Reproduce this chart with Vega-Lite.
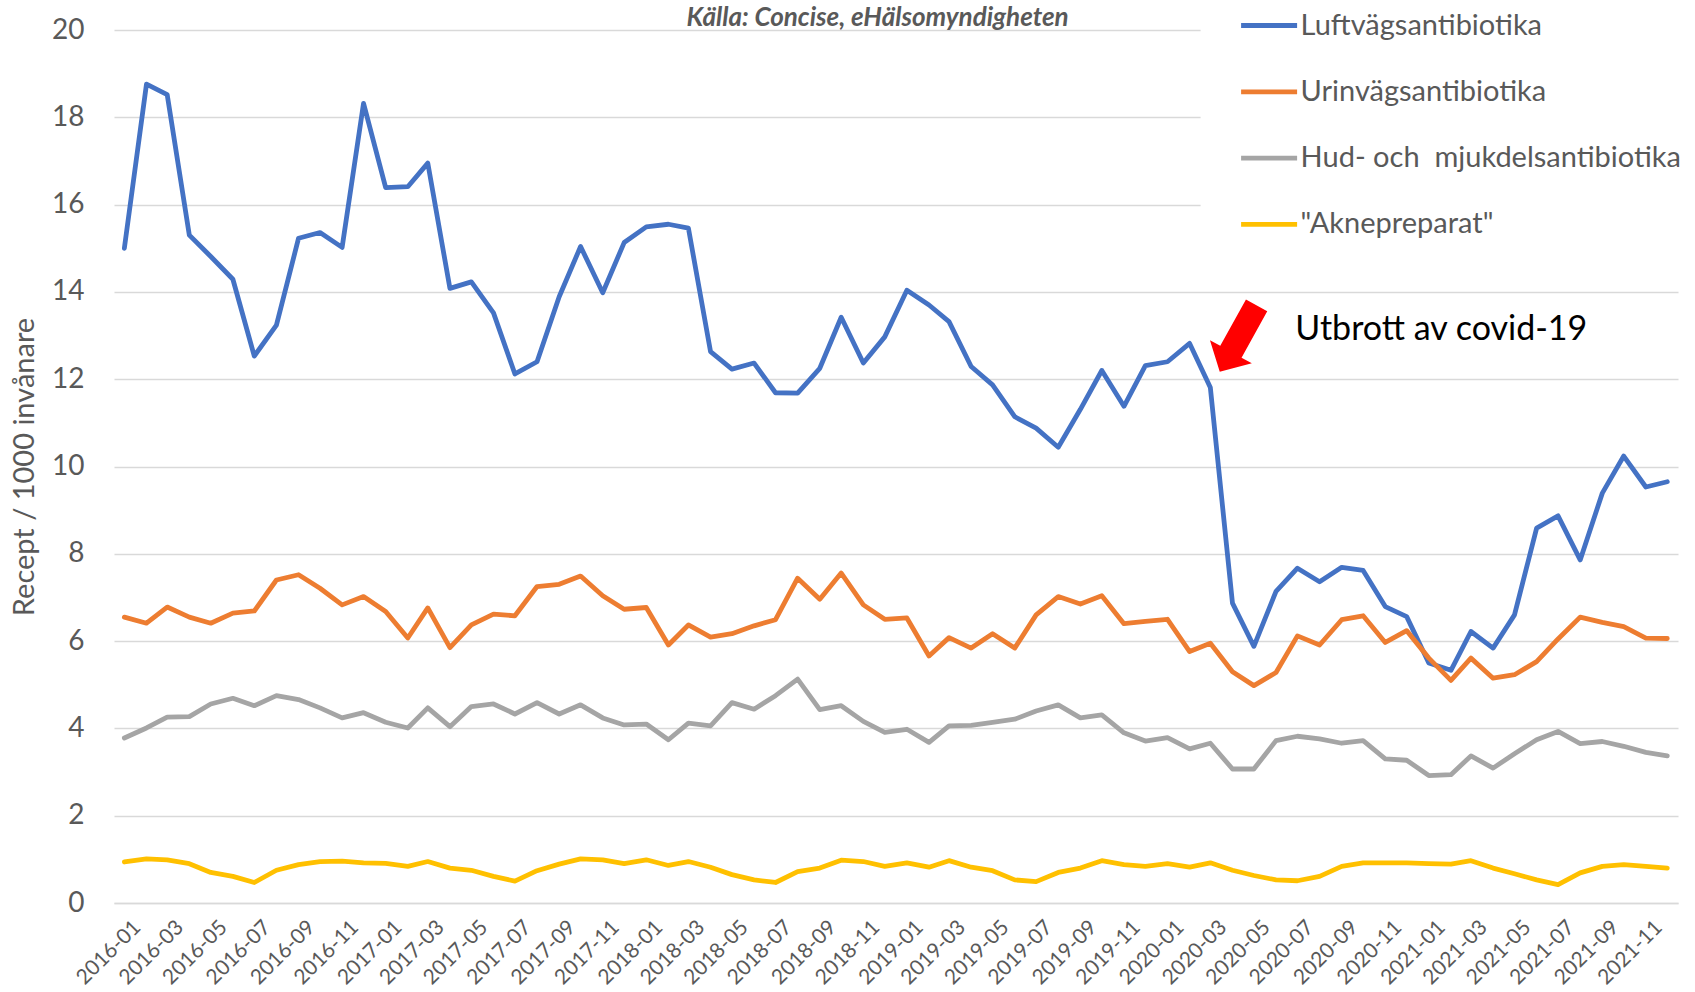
{
  "$schema": "https://vega.github.io/schema/vega-lite/v6.json",
  "width": 1564,
  "height": 873,
  "autosize": "none",
  "padding": {"left": 114, "top": 30, "right": 17, "bottom": 89},
  "background": "white",
  "config": {"view": {"stroke": null}, "font": "Lato"},
  "layer": [
    {
      "data": {
        "format": {"parse": {"m": "utc:'%Y-%m'"}},
        "values": [
{"m":"2016-01","s":"Luftvägsantibiotika","v":15.00},{"m":"2016-02","s":"Luftvägsantibiotika","v":18.76},{"m":"2016-03","s":"Luftvägsantibiotika","v":18.52},{"m":"2016-04","s":"Luftvägsantibiotika","v":15.30},{"m":"2016-05","s":"Luftvägsantibiotika","v":14.81},{"m":"2016-06","s":"Luftvägsantibiotika","v":14.29},{"m":"2016-07","s":"Luftvägsantibiotika","v":12.53},{"m":"2016-08","s":"Luftvägsantibiotika","v":13.24},{"m":"2016-09","s":"Luftvägsantibiotika","v":15.23},{"m":"2016-10","s":"Luftvägsantibiotika","v":15.36},{"m":"2016-11","s":"Luftvägsantibiotika","v":15.02},{"m":"2016-12","s":"Luftvägsantibiotika","v":18.32},
{"m":"2017-01","s":"Luftvägsantibiotika","v":16.39},{"m":"2017-02","s":"Luftvägsantibiotika","v":16.41},{"m":"2017-03","s":"Luftvägsantibiotika","v":16.95},{"m":"2017-04","s":"Luftvägsantibiotika","v":14.08},{"m":"2017-05","s":"Luftvägsantibiotika","v":14.23},{"m":"2017-06","s":"Luftvägsantibiotika","v":13.52},{"m":"2017-07","s":"Luftvägsantibiotika","v":12.12},{"m":"2017-08","s":"Luftvägsantibiotika","v":12.40},{"m":"2017-09","s":"Luftvägsantibiotika","v":13.89},{"m":"2017-10","s":"Luftvägsantibiotika","v":15.04},{"m":"2017-11","s":"Luftvägsantibiotika","v":13.98},{"m":"2017-12","s":"Luftvägsantibiotika","v":15.13},
{"m":"2018-01","s":"Luftvägsantibiotika","v":15.49},{"m":"2018-02","s":"Luftvägsantibiotika","v":15.55},{"m":"2018-03","s":"Luftvägsantibiotika","v":15.46},{"m":"2018-04","s":"Luftvägsantibiotika","v":12.63},{"m":"2018-05","s":"Luftvägsantibiotika","v":12.23},{"m":"2018-06","s":"Luftvägsantibiotika","v":12.37},{"m":"2018-07","s":"Luftvägsantibiotika","v":11.69},{"m":"2018-08","s":"Luftvägsantibiotika","v":11.68},{"m":"2018-09","s":"Luftvägsantibiotika","v":12.25},{"m":"2018-10","s":"Luftvägsantibiotika","v":13.42},{"m":"2018-11","s":"Luftvägsantibiotika","v":12.37},{"m":"2018-12","s":"Luftvägsantibiotika","v":12.97},
{"m":"2019-01","s":"Luftvägsantibiotika","v":14.04},{"m":"2019-02","s":"Luftvägsantibiotika","v":13.70},{"m":"2019-03","s":"Luftvägsantibiotika","v":13.32},{"m":"2019-04","s":"Luftvägsantibiotika","v":12.29},{"m":"2019-05","s":"Luftvägsantibiotika","v":11.87},{"m":"2019-06","s":"Luftvägsantibiotika","v":11.14},{"m":"2019-07","s":"Luftvägsantibiotika","v":10.88},{"m":"2019-08","s":"Luftvägsantibiotika","v":10.44},{"m":"2019-09","s":"Luftvägsantibiotika","v":11.31},{"m":"2019-10","s":"Luftvägsantibiotika","v":12.20},{"m":"2019-11","s":"Luftvägsantibiotika","v":11.38},{"m":"2019-12","s":"Luftvägsantibiotika","v":12.31},
{"m":"2020-01","s":"Luftvägsantibiotika","v":12.40},{"m":"2020-02","s":"Luftvägsantibiotika","v":12.82},{"m":"2020-03","s":"Luftvägsantibiotika","v":11.81},{"m":"2020-04","s":"Luftvägsantibiotika","v":6.87},{"m":"2020-05","s":"Luftvägsantibiotika","v":5.88},{"m":"2020-06","s":"Luftvägsantibiotika","v":7.14},{"m":"2020-07","s":"Luftvägsantibiotika","v":7.67},{"m":"2020-08","s":"Luftvägsantibiotika","v":7.36},{"m":"2020-09","s":"Luftvägsantibiotika","v":7.69},{"m":"2020-10","s":"Luftvägsantibiotika","v":7.62},{"m":"2020-11","s":"Luftvägsantibiotika","v":6.79},{"m":"2020-12","s":"Luftvägsantibiotika","v":6.56},
{"m":"2021-01","s":"Luftvägsantibiotika","v":5.50},{"m":"2021-02","s":"Luftvägsantibiotika","v":5.33},{"m":"2021-03","s":"Luftvägsantibiotika","v":6.22},{"m":"2021-04","s":"Luftvägsantibiotika","v":5.84},{"m":"2021-05","s":"Luftvägsantibiotika","v":6.60},{"m":"2021-06","s":"Luftvägsantibiotika","v":8.59},{"m":"2021-07","s":"Luftvägsantibiotika","v":8.87},{"m":"2021-08","s":"Luftvägsantibiotika","v":7.86},{"m":"2021-09","s":"Luftvägsantibiotika","v":9.39},{"m":"2021-10","s":"Luftvägsantibiotika","v":10.24},{"m":"2021-11","s":"Luftvägsantibiotika","v":9.53},{"m":"2021-12","s":"Luftvägsantibiotika","v":9.65},
{"m":"2016-01","s":"Urinvägsantibiotika","v":6.55},{"m":"2016-02","s":"Urinvägsantibiotika","v":6.41},{"m":"2016-03","s":"Urinvägsantibiotika","v":6.78},{"m":"2016-04","s":"Urinvägsantibiotika","v":6.55},{"m":"2016-05","s":"Urinvägsantibiotika","v":6.41},{"m":"2016-06","s":"Urinvägsantibiotika","v":6.64},{"m":"2016-07","s":"Urinvägsantibiotika","v":6.69},{"m":"2016-08","s":"Urinvägsantibiotika","v":7.40},{"m":"2016-09","s":"Urinvägsantibiotika","v":7.52},{"m":"2016-10","s":"Urinvägsantibiotika","v":7.21},{"m":"2016-11","s":"Urinvägsantibiotika","v":6.83},{"m":"2016-12","s":"Urinvägsantibiotika","v":7.02},
{"m":"2017-01","s":"Urinvägsantibiotika","v":6.68},{"m":"2017-02","s":"Urinvägsantibiotika","v":6.07},{"m":"2017-03","s":"Urinvägsantibiotika","v":6.76},{"m":"2017-04","s":"Urinvägsantibiotika","v":5.85},{"m":"2017-05","s":"Urinvägsantibiotika","v":6.37},{"m":"2017-06","s":"Urinvägsantibiotika","v":6.62},{"m":"2017-07","s":"Urinvägsantibiotika","v":6.58},{"m":"2017-08","s":"Urinvägsantibiotika","v":7.25},{"m":"2017-09","s":"Urinvägsantibiotika","v":7.30},{"m":"2017-10","s":"Urinvägsantibiotika","v":7.49},{"m":"2017-11","s":"Urinvägsantibiotika","v":7.04},{"m":"2017-12","s":"Urinvägsantibiotika","v":6.73},
{"m":"2018-01","s":"Urinvägsantibiotika","v":6.77},{"m":"2018-02","s":"Urinvägsantibiotika","v":5.91},{"m":"2018-03","s":"Urinvägsantibiotika","v":6.37},{"m":"2018-04","s":"Urinvägsantibiotika","v":6.09},{"m":"2018-05","s":"Urinvägsantibiotika","v":6.17},{"m":"2018-06","s":"Urinvägsantibiotika","v":6.35},{"m":"2018-07","s":"Urinvägsantibiotika","v":6.49},{"m":"2018-08","s":"Urinvägsantibiotika","v":7.44},{"m":"2018-09","s":"Urinvägsantibiotika","v":6.96},{"m":"2018-10","s":"Urinvägsantibiotika","v":7.56},{"m":"2018-11","s":"Urinvägsantibiotika","v":6.83},{"m":"2018-12","s":"Urinvägsantibiotika","v":6.50},
{"m":"2019-01","s":"Urinvägsantibiotika","v":6.53},{"m":"2019-02","s":"Urinvägsantibiotika","v":5.66},{"m":"2019-03","s":"Urinvägsantibiotika","v":6.08},{"m":"2019-04","s":"Urinvägsantibiotika","v":5.84},{"m":"2019-05","s":"Urinvägsantibiotika","v":6.17},{"m":"2019-06","s":"Urinvägsantibiotika","v":5.84},{"m":"2019-07","s":"Urinvägsantibiotika","v":6.60},{"m":"2019-08","s":"Urinvägsantibiotika","v":7.02},{"m":"2019-09","s":"Urinvägsantibiotika","v":6.85},{"m":"2019-10","s":"Urinvägsantibiotika","v":7.04},{"m":"2019-11","s":"Urinvägsantibiotika","v":6.40},{"m":"2019-12","s":"Urinvägsantibiotika","v":6.45},
{"m":"2020-01","s":"Urinvägsantibiotika","v":6.50},{"m":"2020-02","s":"Urinvägsantibiotika","v":5.76},{"m":"2020-03","s":"Urinvägsantibiotika","v":5.95},{"m":"2020-04","s":"Urinvägsantibiotika","v":5.30},{"m":"2020-05","s":"Urinvägsantibiotika","v":4.98},{"m":"2020-06","s":"Urinvägsantibiotika","v":5.28},{"m":"2020-07","s":"Urinvägsantibiotika","v":6.12},{"m":"2020-08","s":"Urinvägsantibiotika","v":5.91},{"m":"2020-09","s":"Urinvägsantibiotika","v":6.49},{"m":"2020-10","s":"Urinvägsantibiotika","v":6.58},{"m":"2020-11","s":"Urinvägsantibiotika","v":5.97},{"m":"2020-12","s":"Urinvägsantibiotika","v":6.24},
{"m":"2021-01","s":"Urinvägsantibiotika","v":5.61},{"m":"2021-02","s":"Urinvägsantibiotika","v":5.10},{"m":"2021-03","s":"Urinvägsantibiotika","v":5.61},{"m":"2021-04","s":"Urinvägsantibiotika","v":5.15},{"m":"2021-05","s":"Urinvägsantibiotika","v":5.23},{"m":"2021-06","s":"Urinvägsantibiotika","v":5.53},{"m":"2021-07","s":"Urinvägsantibiotika","v":6.05},{"m":"2021-08","s":"Urinvägsantibiotika","v":6.55},{"m":"2021-09","s":"Urinvägsantibiotika","v":6.43},{"m":"2021-10","s":"Urinvägsantibiotika","v":6.33},{"m":"2021-11","s":"Urinvägsantibiotika","v":6.07},{"m":"2021-12","s":"Urinvägsantibiotika","v":6.06},
{"m":"2016-01","s":"Hud- och\u00a0 mjukdelsantibiotika","v":3.78},{"m":"2016-02","s":"Hud- och\u00a0 mjukdelsantibiotika","v":4.01},{"m":"2016-03","s":"Hud- och\u00a0 mjukdelsantibiotika","v":4.26},{"m":"2016-04","s":"Hud- och\u00a0 mjukdelsantibiotika","v":4.27},{"m":"2016-05","s":"Hud- och\u00a0 mjukdelsantibiotika","v":4.56},{"m":"2016-06","s":"Hud- och\u00a0 mjukdelsantibiotika","v":4.69},{"m":"2016-07","s":"Hud- och\u00a0 mjukdelsantibiotika","v":4.52},{"m":"2016-08","s":"Hud- och\u00a0 mjukdelsantibiotika","v":4.75},{"m":"2016-09","s":"Hud- och\u00a0 mjukdelsantibiotika","v":4.66},{"m":"2016-10","s":"Hud- och\u00a0 mjukdelsantibiotika","v":4.47},{"m":"2016-11","s":"Hud- och\u00a0 mjukdelsantibiotika","v":4.24},{"m":"2016-12","s":"Hud- och\u00a0 mjukdelsantibiotika","v":4.36},
{"m":"2017-01","s":"Hud- och\u00a0 mjukdelsantibiotika","v":4.14},{"m":"2017-02","s":"Hud- och\u00a0 mjukdelsantibiotika","v":4.01},{"m":"2017-03","s":"Hud- och\u00a0 mjukdelsantibiotika","v":4.47},{"m":"2017-04","s":"Hud- och\u00a0 mjukdelsantibiotika","v":4.04},{"m":"2017-05","s":"Hud- och\u00a0 mjukdelsantibiotika","v":4.50},{"m":"2017-06","s":"Hud- och\u00a0 mjukdelsantibiotika","v":4.56},{"m":"2017-07","s":"Hud- och\u00a0 mjukdelsantibiotika","v":4.33},{"m":"2017-08","s":"Hud- och\u00a0 mjukdelsantibiotika","v":4.59},{"m":"2017-09","s":"Hud- och\u00a0 mjukdelsantibiotika","v":4.33},{"m":"2017-10","s":"Hud- och\u00a0 mjukdelsantibiotika","v":4.54},{"m":"2017-11","s":"Hud- och\u00a0 mjukdelsantibiotika","v":4.24},{"m":"2017-12","s":"Hud- och\u00a0 mjukdelsantibiotika","v":4.08},
{"m":"2018-01","s":"Hud- och\u00a0 mjukdelsantibiotika","v":4.10},{"m":"2018-02","s":"Hud- och\u00a0 mjukdelsantibiotika","v":3.74},{"m":"2018-03","s":"Hud- och\u00a0 mjukdelsantibiotika","v":4.12},{"m":"2018-04","s":"Hud- och\u00a0 mjukdelsantibiotika","v":4.06},{"m":"2018-05","s":"Hud- och\u00a0 mjukdelsantibiotika","v":4.59},{"m":"2018-06","s":"Hud- och\u00a0 mjukdelsantibiotika","v":4.44},{"m":"2018-07","s":"Hud- och\u00a0 mjukdelsantibiotika","v":4.75},{"m":"2018-08","s":"Hud- och\u00a0 mjukdelsantibiotika","v":5.13},{"m":"2018-09","s":"Hud- och\u00a0 mjukdelsantibiotika","v":4.43},{"m":"2018-10","s":"Hud- och\u00a0 mjukdelsantibiotika","v":4.52},{"m":"2018-11","s":"Hud- och\u00a0 mjukdelsantibiotika","v":4.16},{"m":"2018-12","s":"Hud- och\u00a0 mjukdelsantibiotika","v":3.91},
{"m":"2019-01","s":"Hud- och\u00a0 mjukdelsantibiotika","v":3.98},{"m":"2019-02","s":"Hud- och\u00a0 mjukdelsantibiotika","v":3.68},{"m":"2019-03","s":"Hud- och\u00a0 mjukdelsantibiotika","v":4.06},{"m":"2019-04","s":"Hud- och\u00a0 mjukdelsantibiotika","v":4.07},{"m":"2019-05","s":"Hud- och\u00a0 mjukdelsantibiotika","v":4.14},{"m":"2019-06","s":"Hud- och\u00a0 mjukdelsantibiotika","v":4.21},{"m":"2019-07","s":"Hud- och\u00a0 mjukdelsantibiotika","v":4.40},{"m":"2019-08","s":"Hud- och\u00a0 mjukdelsantibiotika","v":4.54},{"m":"2019-09","s":"Hud- och\u00a0 mjukdelsantibiotika","v":4.24},{"m":"2019-10","s":"Hud- och\u00a0 mjukdelsantibiotika","v":4.31},{"m":"2019-11","s":"Hud- och\u00a0 mjukdelsantibiotika","v":3.90},{"m":"2019-12","s":"Hud- och\u00a0 mjukdelsantibiotika","v":3.71},
{"m":"2020-01","s":"Hud- och\u00a0 mjukdelsantibiotika","v":3.79},{"m":"2020-02","s":"Hud- och\u00a0 mjukdelsantibiotika","v":3.53},{"m":"2020-03","s":"Hud- och\u00a0 mjukdelsantibiotika","v":3.66},{"m":"2020-04","s":"Hud- och\u00a0 mjukdelsantibiotika","v":3.07},{"m":"2020-05","s":"Hud- och\u00a0 mjukdelsantibiotika","v":3.07},{"m":"2020-06","s":"Hud- och\u00a0 mjukdelsantibiotika","v":3.72},{"m":"2020-07","s":"Hud- och\u00a0 mjukdelsantibiotika","v":3.82},{"m":"2020-08","s":"Hud- och\u00a0 mjukdelsantibiotika","v":3.76},{"m":"2020-09","s":"Hud- och\u00a0 mjukdelsantibiotika","v":3.66},{"m":"2020-10","s":"Hud- och\u00a0 mjukdelsantibiotika","v":3.72},{"m":"2020-11","s":"Hud- och\u00a0 mjukdelsantibiotika","v":3.30},{"m":"2020-12","s":"Hud- och\u00a0 mjukdelsantibiotika","v":3.27},
{"m":"2021-01","s":"Hud- och\u00a0 mjukdelsantibiotika","v":2.92},{"m":"2021-02","s":"Hud- och\u00a0 mjukdelsantibiotika","v":2.94},{"m":"2021-03","s":"Hud- och\u00a0 mjukdelsantibiotika","v":3.37},{"m":"2021-04","s":"Hud- och\u00a0 mjukdelsantibiotika","v":3.09},{"m":"2021-05","s":"Hud- och\u00a0 mjukdelsantibiotika","v":3.42},{"m":"2021-06","s":"Hud- och\u00a0 mjukdelsantibiotika","v":3.74},{"m":"2021-07","s":"Hud- och\u00a0 mjukdelsantibiotika","v":3.93},{"m":"2021-08","s":"Hud- och\u00a0 mjukdelsantibiotika","v":3.65},{"m":"2021-09","s":"Hud- och\u00a0 mjukdelsantibiotika","v":3.70},{"m":"2021-10","s":"Hud- och\u00a0 mjukdelsantibiotika","v":3.59},{"m":"2021-11","s":"Hud- och\u00a0 mjukdelsantibiotika","v":3.45},{"m":"2021-12","s":"Hud- och\u00a0 mjukdelsantibiotika","v":3.37},
{"m":"2016-01","s":"\"Aknepreparat\"","v":0.94},{"m":"2016-02","s":"\"Aknepreparat\"","v":1.01},{"m":"2016-03","s":"\"Aknepreparat\"","v":0.99},{"m":"2016-04","s":"\"Aknepreparat\"","v":0.90},{"m":"2016-05","s":"\"Aknepreparat\"","v":0.70},{"m":"2016-06","s":"\"Aknepreparat\"","v":0.61},{"m":"2016-07","s":"\"Aknepreparat\"","v":0.47},{"m":"2016-08","s":"\"Aknepreparat\"","v":0.75},{"m":"2016-09","s":"\"Aknepreparat\"","v":0.88},{"m":"2016-10","s":"\"Aknepreparat\"","v":0.95},{"m":"2016-11","s":"\"Aknepreparat\"","v":0.96},{"m":"2016-12","s":"\"Aknepreparat\"","v":0.92},
{"m":"2017-01","s":"\"Aknepreparat\"","v":0.91},{"m":"2017-02","s":"\"Aknepreparat\"","v":0.84},{"m":"2017-03","s":"\"Aknepreparat\"","v":0.95},{"m":"2017-04","s":"\"Aknepreparat\"","v":0.80},{"m":"2017-05","s":"\"Aknepreparat\"","v":0.75},{"m":"2017-06","s":"\"Aknepreparat\"","v":0.61},{"m":"2017-07","s":"\"Aknepreparat\"","v":0.50},{"m":"2017-08","s":"\"Aknepreparat\"","v":0.74},{"m":"2017-09","s":"\"Aknepreparat\"","v":0.89},{"m":"2017-10","s":"\"Aknepreparat\"","v":1.01},{"m":"2017-11","s":"\"Aknepreparat\"","v":0.99},{"m":"2017-12","s":"\"Aknepreparat\"","v":0.90},
{"m":"2018-01","s":"\"Aknepreparat\"","v":0.99},{"m":"2018-02","s":"\"Aknepreparat\"","v":0.86},{"m":"2018-03","s":"\"Aknepreparat\"","v":0.95},{"m":"2018-04","s":"\"Aknepreparat\"","v":0.82},{"m":"2018-05","s":"\"Aknepreparat\"","v":0.65},{"m":"2018-06","s":"\"Aknepreparat\"","v":0.53},{"m":"2018-07","s":"\"Aknepreparat\"","v":0.47},{"m":"2018-08","s":"\"Aknepreparat\"","v":0.72},{"m":"2018-09","s":"\"Aknepreparat\"","v":0.80},{"m":"2018-10","s":"\"Aknepreparat\"","v":0.98},{"m":"2018-11","s":"\"Aknepreparat\"","v":0.95},{"m":"2018-12","s":"\"Aknepreparat\"","v":0.84},
{"m":"2019-01","s":"\"Aknepreparat\"","v":0.92},{"m":"2019-02","s":"\"Aknepreparat\"","v":0.82},{"m":"2019-03","s":"\"Aknepreparat\"","v":0.97},{"m":"2019-04","s":"\"Aknepreparat\"","v":0.82},{"m":"2019-05","s":"\"Aknepreparat\"","v":0.74},{"m":"2019-06","s":"\"Aknepreparat\"","v":0.53},{"m":"2019-07","s":"\"Aknepreparat\"","v":0.49},{"m":"2019-08","s":"\"Aknepreparat\"","v":0.70},{"m":"2019-09","s":"\"Aknepreparat\"","v":0.80},{"m":"2019-10","s":"\"Aknepreparat\"","v":0.97},{"m":"2019-11","s":"\"Aknepreparat\"","v":0.88},{"m":"2019-12","s":"\"Aknepreparat\"","v":0.84},
{"m":"2020-01","s":"\"Aknepreparat\"","v":0.90},{"m":"2020-02","s":"\"Aknepreparat\"","v":0.82},{"m":"2020-03","s":"\"Aknepreparat\"","v":0.92},{"m":"2020-04","s":"\"Aknepreparat\"","v":0.75},{"m":"2020-05","s":"\"Aknepreparat\"","v":0.63},{"m":"2020-06","s":"\"Aknepreparat\"","v":0.53},{"m":"2020-07","s":"\"Aknepreparat\"","v":0.51},{"m":"2020-08","s":"\"Aknepreparat\"","v":0.61},{"m":"2020-09","s":"\"Aknepreparat\"","v":0.84},{"m":"2020-10","s":"\"Aknepreparat\"","v":0.92},{"m":"2020-11","s":"\"Aknepreparat\"","v":0.92},{"m":"2020-12","s":"\"Aknepreparat\"","v":0.92},
{"m":"2021-01","s":"\"Aknepreparat\"","v":0.90},{"m":"2021-02","s":"\"Aknepreparat\"","v":0.89},{"m":"2021-03","s":"\"Aknepreparat\"","v":0.97},{"m":"2021-04","s":"\"Aknepreparat\"","v":0.80},{"m":"2021-05","s":"\"Aknepreparat\"","v":0.67},{"m":"2021-06","s":"\"Aknepreparat\"","v":0.53},{"m":"2021-07","s":"\"Aknepreparat\"","v":0.42},{"m":"2021-08","s":"\"Aknepreparat\"","v":0.69},{"m":"2021-09","s":"\"Aknepreparat\"","v":0.84},{"m":"2021-10","s":"\"Aknepreparat\"","v":0.88},{"m":"2021-11","s":"\"Aknepreparat\"","v":0.84},{"m":"2021-12","s":"\"Aknepreparat\"","v":0.80}
        ]
      },
      "mark": {"type": "line", "strokeWidth": 4.8, "strokeJoin": "round", "strokeCap": "round"},
      "encoding": {
        "x": {
          "field": "m", "type": "temporal",
          "scale": {"type": "utc", "nice": false, "domain": [{"year": 2015, "month": 12, "date": 17, "hours": 12, "utc": true}, {"year": 2021, "month": 12, "date": 16, "utc": true}]},
          "axis": {"title": null, "format": "%Y-%m", "tickCount": {"interval": "month", "step": 2}, "labelAngle": -45, "labelFontSize": 21, "labelColor": "#595959", "labelFont": "Lato", "ticks": false, "grid": false, "domainColor": "#D9D9D9", "domainWidth": 1.5, "labelPadding": 13, "labelOffset": 5, "labelOverlap": false, "labelFlush": false, "labelBound": false}
        },
        "y": {
          "field": "v", "type": "quantitative",
          "scale": {"domain": [0, 20], "nice": false},
          "axis": {"title": "Recept / 1000 invånare", "values": [0, 2, 4, 6, 8, 10, 12, 14, 16, 18, 20], "titleFontSize": 29, "titleFont": "Lato", "titleFontWeight": "normal", "titleColor": "#595959", "labelFontSize": 28, "labelFont": "Lato", "labelColor": "#595959", "labelPadding": 30, "titlePadding": 12, "domain": false, "ticks": false, "gridColor": "#D9D9D9", "gridWidth": 1.5}
        },
        "color": {
          "field": "s", "type": "nominal",
          "scale": {"domain": ["Luftvägsantibiotika", "Urinvägsantibiotika", "Hud- och\u00a0 mjukdelsantibiotika", "\"Aknepreparat\""], "range": ["#4472C4", "#ED7D31", "#A5A5A5", "#FFC000"]},
          "legend": {"orient": "none", "legendX": 1086.6, "legendY": -73, "title": null, "symbolType": "stroke", "symbolStrokeWidth": 4.8, "symbolSize": 3136, "labelFontSize": 29, "labelFont": "Lato", "labelColor": "#595959", "labelOffset": 1, "rowPadding": 20.3, "padding": 38, "fillColor": "white", "labelLimit": 0}
        }
      }
    },
    {
      "data": {
        "format": {"parse": {"m": "utc:'%Y-%m-%d'"}},
        "values": [{"m": "2018-11-21", "v": 20.09, "t": "Källa: Concise, eHälsomyndigheten"}]
      },
      "mark": {"type": "text", "align": "center", "baseline": "alphabetic", "fontSize": 26, "font": "Lato", "fontStyle": "italic", "fontWeight": "bold", "color": "#595959"},
      "encoding": {
        "x": {"field": "m", "type": "temporal"},
        "y": {"field": "v", "type": "quantitative"},
        "text": {"field": "t"}
      }
    },
    {
      "data": {
        "format": {"parse": {"m": "utc:'%Y-%m-%d'"}},
        "values": [{"m": "2020-06-28", "v": 12.9, "t": "Utbrott av covid-19"}]
      },
      "mark": {"type": "text", "align": "left", "baseline": "alphabetic", "fontSize": 34, "font": "Lato", "color": "black"},
      "encoding": {
        "x": {"field": "m", "type": "temporal"},
        "y": {"field": "v", "type": "quantitative"},
        "text": {"field": "t"}
      }
    },
    {
      "data": {
        "format": {"parse": {"m": "utc:'%Y-%m-%d'"}},
        "values": [{"m": "2020-04-09", "v": 12.93}]
      },
      "mark": {"type": "point", "shape": "M -0.32 -1 L 0.32 -1 L 0.32 0.395 L 0.63 0.395 L 0 1 L -0.63 0.395 L -0.32 0.395 Z", "filled": true, "size": 5776, "angle": 29, "color": "#FF0000", "opacity": 1, "strokeWidth": 0},
      "encoding": {
        "x": {"field": "m", "type": "temporal"},
        "y": {"field": "v", "type": "quantitative"}
      }
    }
  ]
}
